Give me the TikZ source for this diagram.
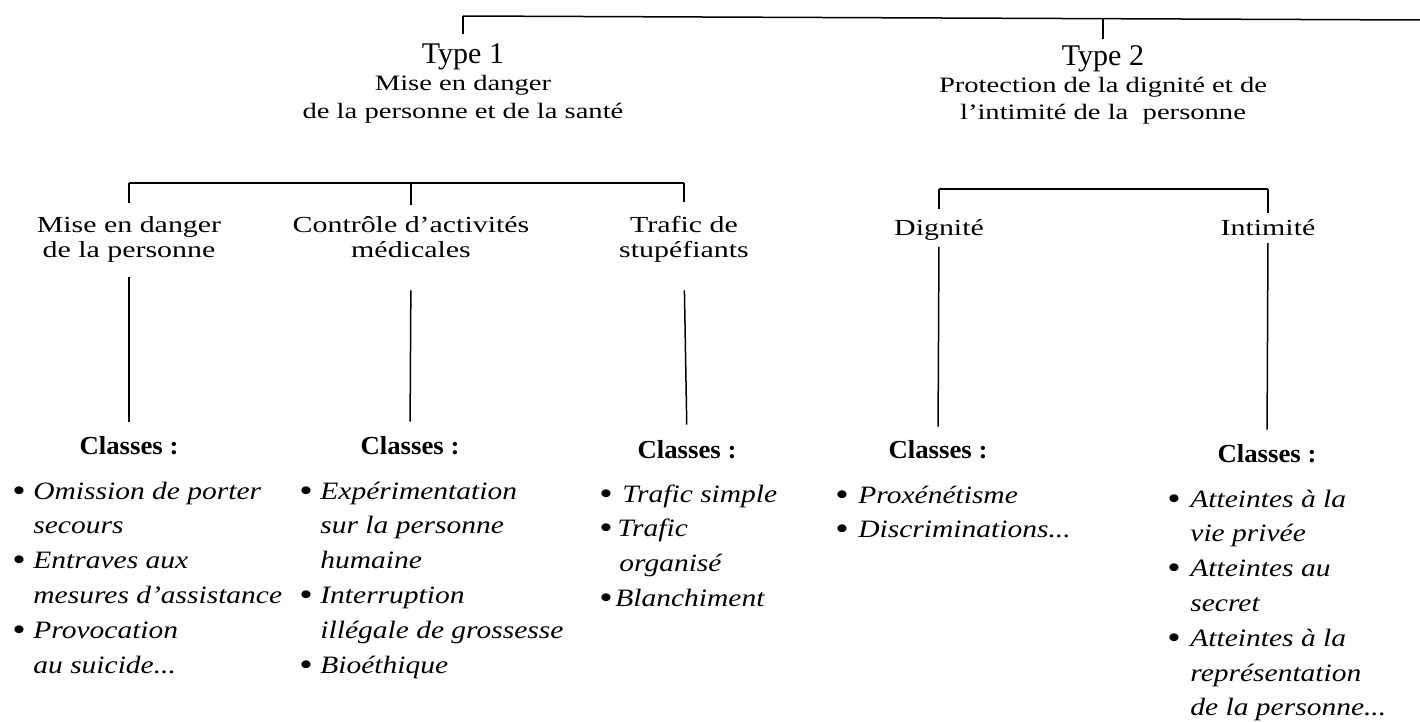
\documentclass[tikz,border=0pt]{standalone}
\usepackage{graphicx}
\usepackage{fontspec}
\setmainfont{Liberation Serif}
\newfontfamily\lvlfont{Liberation Serif}[FakeStretch=1.3]
\newfontfamily\ttlfont{Liberation Serif}[FakeStretch=1.0]
\newfontfamily\clsfont{Liberation Serif}[FakeStretch=1.03]
\newfontfamily\itmfont{Liberation Serif}[FakeStretch=1.18]
\newcommand{\stackc}[1]{\begin{tabular}[t]{@{}c@{}}#1\end{tabular}}
\newcommand{\stackl}[1]{\begin{tabular}[t]{@{}l@{}}#1\end{tabular}}
\newcommand{\bul}[1]{\makebox[#1][l]{\hspace{-1.5pt}\raisebox{-1pt}{\scalebox{1.3}{\upshape\textbullet}}}}
\begin{document}
\begin{tikzpicture}[x=0.5pt,y=-0.5pt,
  ttl/.style={inner sep=0pt, anchor=base, font=\lvlfont\fontsize{11}{13.5}\selectfont},
  lbl/.style={inner sep=0pt, anchor=base, font=\lvlfont\fontsize{11.5}{12.5}\selectfont},
  cls/.style={inner sep=0pt, anchor=base, font=\clsfont\bfseries\fontsize{13}{15}\selectfont},
  itm/.style={inner sep=0pt, anchor=base west, font=\itmfont\itshape\fontsize{12.5}{17.4}\selectfont},
  conn/.style={draw=black, line width=0.75pt}
]
\fill[white] (0,0) rectangle (1420,722);
\useasboundingbox (0,0) rectangle (1420,722);

% Type nodes
\node[ttl] (t1) at (463,64) {\stackc{{\ttlfont\fontsize{15}{16}\selectfont Type 1}\\Mise en danger\\de la personne et de la santé}};
\node[ttl] (t2) at (1103,66) {\stackc{{\ttlfont\fontsize{15}{16}\selectfont Type 2}\\Protection de la dignité et de\\l’intimité de la~ personne}};

% level 2
\node[lbl] (m1) at (129,233) {\stackc{Mise en danger\\de la personne}};
\node[lbl] (m2) at (411,233) {\stackc{Contrôle d’activités\\médicales}};
\node[lbl] (m3) at (684,233) {\stackc{Trafic de\\stupéfiants}};
\node[lbl] (d1) at (939,235) {Dignité};
\node[lbl] (d2) at (1268,235) {Intimité};

% Classes
\node[cls] (c1) at (129,454) {Classes :};
\node[cls] (c2) at (410,454) {Classes :};
\node[cls] (c3) at (687,458) {Classes :};
\node[cls] (c4) at (938,458) {Classes :};
\node[cls] (c5) at (1267,462) {Classes :};

% lists
\node[itm] (l1) at (15,499) {\stackl{\bul{9pt}Omission de porter\\\hspace*{9pt}secours\\\bul{9pt}Entraves aux\\\hspace*{9pt}mesures d’assistance\\\bul{9pt}Provocation\\\hspace*{9pt}au suicide...}};
\node[itm] (l2) at (302,499) {\stackl{\bul{9pt}Expérimentation\\\hspace*{9pt}sur la personne\\\hspace*{9pt}humaine\\\bul{9pt}Interruption\\\hspace*{9pt}illégale de grossesse\\\bul{9pt}Bioéthique}};
\node[itm] (l3) at (602,502) {\stackl{\bul{10pt}Trafic simple\\\bul{7.5pt}Trafic\\\hspace*{8.5pt}organisé\\\bul{6.5pt}Blanchiment}};
\node[itm] (l4) at (838,503) {\stackl{\bul{10pt}Proxénétisme\\\bul{10pt}Discriminations...}};
\node[itm] (l5) at (1170,507) {\stackl{\bul{10pt}Atteintes à la\\\hspace*{10pt}vie privée\\\bul{10pt}Atteintes au\\\hspace*{10pt}secret\\\bul{10pt}Atteintes à la\\\hspace*{10pt}représentation\\\hspace*{10pt}de la personne...}};

% coordinates of brackets
\coordinate (top1) at (463,16);
\coordinate (top2) at (1103,18.7);
\coordinate (topR) at (1420,20);
\coordinate (b1L) at (129,183);
\coordinate (b1M) at (411,183);
\coordinate (b1R) at (684,183);
\coordinate (b2L) at (939,189);
\coordinate (b2R) at (1268,189);

% top bracket
\draw[conn] (top1) -- (topR);
\draw[conn, shorten >=5pt] (top1) -- (t1.north);
\draw[conn, shorten >=3.5pt] (top2) -- (t2.north);

% type 1 bracket
\draw[conn] (b1L) -- (b1R);
\draw[conn, shorten >=6.25pt] (b1L) -- (m1.north);
\draw[conn, shorten >=5.25pt] (b1M) -- (m2.north);
\draw[conn, shorten >=6.75pt] (b1R) -- (m3.north);
% type 2 bracket
\draw[conn] (b2L) -- (b2R);
\draw[conn, shorten >=4.75pt] (b2L) -- (d1.north);
\draw[conn, shorten >=2.75pt] (b2R) -- (d2.north);

% lower verticals
\draw[conn, shorten <=5.75pt, shorten >=7pt] (m1.south) -- (c1.north);
\draw[conn, shorten <=12.25pt, shorten >=7pt] (m2.south) -- (c2.north);
\draw[conn, shorten <=12.25pt, shorten >=7.5pt] (m3.south) -- (c3.north);
\draw[conn, shorten <=3.25pt, shorten >=6.5pt] (d1.south) -- (c4.north);
\draw[conn, shorten <=3.75pt, shorten >=7pt] (d2.south) -- (c5.north);
\end{tikzpicture}
\end{document}
